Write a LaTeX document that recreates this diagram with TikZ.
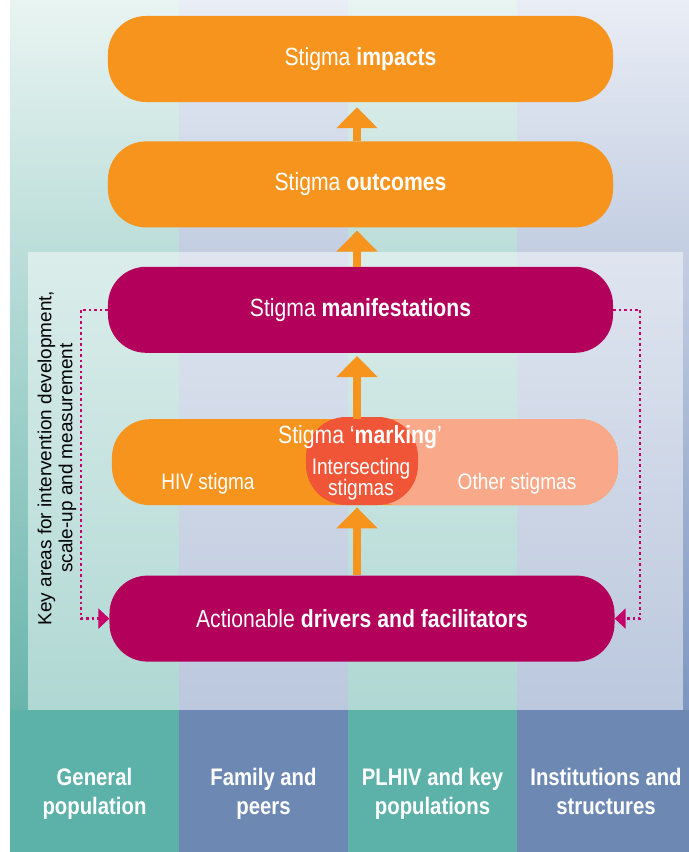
\documentclass[tikz,border=0pt]{standalone}
\usepackage{fontspec}
\setmainfont{Liberation Sans}
\newfontfamily\narrowfont{Liberation Sans}[FakeStretch=0.85]
\usetikzlibrary{arrows.meta, positioning}

\definecolor{stigmaorange}{HTML}{F7941E}
\definecolor{stigmamagenta}{HTML}{B2005B}
\definecolor{stigmasalmon}{HTML}{F9A98A}
\definecolor{stigmared}{HTML}{F05537}
\definecolor{dotmagenta}{HTML}{C4006B}
\definecolor{tealtop}{HTML}{E9F4F2}
\definecolor{tealbottom}{HTML}{68B5AC}
\definecolor{tealband}{HTML}{5CB1A8}
\definecolor{bluetop}{HTML}{E9EDF5}
\definecolor{bluebottom}{HTML}{7E96C0}
\definecolor{blueband}{HTML}{6D89B3}

\begin{document}
\begin{tikzpicture}[
            x = 1bp, y = -1bp, % pixel grid, y runs downwards
            node distance = 39bp, % gap between stage boxes
            font = \narrowfont
        ]

        \tikzstyle{stage}=[
            rounded corners = 38bp,
            minimum width = 505bp,
            minimum height = 86bp,
            inner sep = 0pt,
            text = white,
            font = \narrowfont\fontsize{25}{28}\selectfont
        ]
        \tikzstyle{rise}=[
            draw = stigmaorange,
            line width = 8bp,
            -{Triangle[length=21bp, width=40bp]}
        ]
        \tikzstyle{feedback}=[
            draw = dotmagenta,
            line width = 2.5bp,
            dash pattern = on 2.5bp off 3bp,
            -{Triangle[length=11bp, width=20bp]}
        ]
        \tikzstyle{group}=[
            anchor = north,
            align = center,
            text = white,
            font = \narrowfont\bfseries\fontsize{24}{29}\selectfont
        ]
        \tikzstyle{markword}=[
            text = white,
            font = \narrowfont\fontsize{22.5}{21}\selectfont
        ]

        \useasboundingbox (0,0) rectangle (689,852);
        \fill[white] (0,0) rectangle (689,852);

        % columns of the four levels
        \foreach \x/\w/\c in {10/169/teal, 179/169/blue, 348/169/teal, 517/172/blue} {
            \shade[top color=\c top, bottom color=\c bottom] (\x,0) rectangle ++(\w,710);
            \fill[\c band] (\x,710) rectangle ++(\w,142);
        }
        \fill[white, opacity=0.48] (28,252) rectangle (683,710);

        \coordinate (spine) at (357,0);

        \node[stage, fill=stigmaorange] (impacts) at (360.5,59) {Stigma \textbf{impacts}};
        \node[stage, fill=stigmaorange] (outcomes) [below=of impacts] {Stigma \textbf{outcomes}};
        \node[stage, fill=stigmamagenta] (manifest) [below=of outcomes] {Stigma \textbf{manifestations}};
        \node[stage, fill=stigmaorange, minimum width=506bp,
            path picture={\fill[stigmasalmon] ([xshift=-4bp]path picture bounding box.north)
                rectangle (path picture bounding box.south east);}]
            (marking) [below=66bp of manifest, xshift=4.5bp] {};
        \node[stage, fill=stigmamagenta] (drivers) [below=70bp of marking, xshift=-3bp]
            {Actionable \textbf{drivers and facilitators}};

        \node[fill=stigmared, rounded corners=40bp, minimum width=112bp,
            minimum height=88bp] (overlap) at (362,461) {};
        \node[markword, font=\narrowfont\fontsize{25}{28}\selectfont] (marktitle)
            at (360,437) {Stigma ‘\textbf{marking}’};
        \node[markword, align=center] (overlaptxt) at (361,479) {Intersecting\\stigmas};
        \node[markword] (hiv) at (208,484) {HIV stigma};
        \node[markword] (other) at (517,484) {Other stigmas};

        \draw[rise, shorten >=5bp] (outcomes.north -| spine) -- (impacts.south -| spine);
        \draw[rise, shorten >=3bp] (manifest.north -| spine) -- (outcomes.south -| spine);
        \draw[rise, shorten >=3bp] (marking.north -| spine) -- (manifest.south -| spine);
        \draw[rise, shorten >=2bp] (drivers.north -| spine) -- (marking.south -| spine);

        \draw[feedback] (manifest.west) -- ++(-27,0) |- (drivers.west);
        \draw[feedback] (manifest.east) -- ++(27,0) |- (drivers.east);

        \node[rotate=90, align=center, font=\fontsize{19}{21}\selectfont] (keyareas)
            at (57,458) {Key areas for intervention development,\\scale-up and measurement};

        \node[group] (general) at (94.5,765) {General\\population};
        \node[group] (family) at (263.5,765) {Family and\\peers};
        \node[group] (plhiv) at (432.5,765) {PLHIV and key\\populations};
        \node[group] (institutions) at (606,765) {Institutions and\\structures};

    \end{tikzpicture}
\end{document}
